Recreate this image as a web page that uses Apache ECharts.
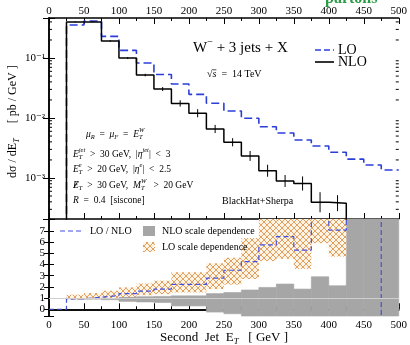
<!DOCTYPE html>
<html>
<head>
<meta charset="utf-8">
<script src="https://cdn.jsdelivr.net/npm/echarts@6/dist/echarts.min.js"></script>
<style>
  html, body { margin: 0; padding: 0; background: #fff; }
  #main { width: 410px; height: 345px; }
</style>
</head>
<body>
<div id="main"></div>
<script>
// histogram bins are 25 GeV wide
const BIN = 25;
// LO and NLO cross sections, pb/GeV, bins from 25 GeV
const loXsec = [0.355, 0.415, 0.230, 0.134, 0.0826, 0.0531, 0.0369, 0.0248, 0.0176, 0.0131,
  0.00989, 0.00716, 0.00562, 0.0043, 0.00341, 0.00268, 0.00206, 0.00165, 0.00136];
const nloXsec = [0.40, 0.40, 0.192, 0.100, 0.052, 0.0304, 0.0175, 0.0120, 0.00656, 0.00394,
  0.00233, 0.00132, 0.00089, 0.00081, 0.000394, 0.00038];
// relative statistical error of NLO
const nloErr = [0.02, 0.02, 0.03, 0.04, 0.05, 0.08, 0.13, 0.17, 0.17, 0.17,
  0.21, 0.26, 0.26, 0.31, 0.47, 0.36];
// ratio panel, bins from 0 GeV (20 = off scale above, -20 = off scale below)
const ratioLoNlo = [0, 0.92, 1.08, 1.22, 1.4, 1.62, 1.8, 2.22, 2.22, 2.77, 3.48, 4.25,
  5.74, 6.48, 5.28, 8.6, 7.05, 20, 20, -20];
// NLO scale band, bins from 25 GeV
const nloBandLow = [0.92, 0.9, 0.85, 0.7, 0.65, 0.6, 0.3, 0.3, -0.25, -0.4, -1, -1, -1, -1, -1, -1, -1, -1, -1];
const nloBandHigh = [1.08, 1.1, 1.1, 1.1, 1.12, 1.15, 1.2, 1.2, 1.4, 1.5, 1.72, 1.95, 2.25, 1.8, 2.9, 2.1, 9, 9, 9];
// LO scale band, bins from 25 GeV
const loBandLow = [0.85, 0.9, 1.0, 1.1, 1.25, 1.35, 1.5, 1.5, 1.8, 2.2, 2.7, 4.3, 4.5, 3.6, 5.9, 4.7];
const loBandHigh = [1.3, 1.45, 1.65, 1.95, 2.3, 2.55, 3.3, 3.3, 4.1, 4.6, 6.35, 9, 9, 9, 9, 9];

const SERIF = '"Liberation Serif", "DejaVu Serif", serif';
const FLOOR = 1e-6;

function steps(from, vals, rise, drop) {
  const pts = [];
  if (rise) pts.push([from, FLOOR]);
  vals.forEach((v, i) => {
    pts.push([from + i * BIN, v]);
    pts.push([from + (i + 1) * BIN, v]);
  });
  if (drop) pts.push([from + vals.length * BIN, FLOOR]);
  return pts;
}

function bands(from, low, high) {
  return low.map((l, i) => [from + i * BIN, from + (i + 1) * BIN, l, high[i]]);
}

function hatch() {
  const c = document.createElement('canvas');
  c.width = 6; c.height = 6;
  const g = c.getContext('2d');
  g.fillStyle = '#fff3e4';
  g.fillRect(0, 0, 6, 6);
  g.strokeStyle = '#e0a062';
  g.lineWidth = 1;
  g.beginPath();
  g.moveTo(0, 0); g.lineTo(6, 6);
  g.moveTo(6, 0); g.lineTo(0, 6);
  g.stroke();
  return c;
}
const hatchFill = { image: hatch(), repeat: 'repeat' };

function bandItem(fill, stroke) {
  return function (params, api) {
    const a = api.coord([api.value(0), api.value(3)]);
    const b = api.coord([api.value(1), api.value(2)]);
    const cs = params.coordSys;
    const shape = echarts.graphic.clipRectByRect(
      { x: a[0], y: a[1], width: b[0] - a[0], height: b[1] - a[1] },
      { x: cs.x, y: cs.y, width: cs.width, height: cs.height });
    if (!shape) return null;
    return { type: 'rect', shape: shape, style: { fill: fill, stroke: stroke, lineWidth: stroke ? 0.6 : 0 } };
  };
}

// text with sub/superscripts
const mctx = document.createElement('canvas').getContext('2d');
function fontOf(size, italic, bold) {
  return (italic ? 'italic ' : '') + (bold ? 'bold ' : '') + size + 'px ' + SERIF;
}
function tw(t, font) { mctx.font = font; return mctx.measureText(t).width; }
function mathText(x, y, size, parts, color) {
  color = color || '#000';
  const out = [];
  let cx = x;
  const put = (t, s, it, dy) => {
    const f = fontOf(s, it);
    out.push({ type: 'text', x: cx, y: y + dy, style: {
      text: t, font: f, fill: color, textAlign: 'left', textVerticalAlign: 'middle' } });
    return tw(t, f);
  };
  parts.forEach(p => {
    if (typeof p === 'string') { cx += put(p, size, false, 0); return; }
    const x0 = cx;
    const w = put(p.t, size, !!p.it, 0);
    if (p.slash) out.push({ type: 'line', shape: { x1: x0 + w * 0.15, y1: y + size * 0.32, x2: x0 + w * 0.85, y2: y - size * 0.42 },
      style: { stroke: color, lineWidth: 0.8 } });
    if (p.bar) out.push({ type: 'line', shape: { x1: x0, y1: y - size * 0.42, x2: x0 + w, y2: y - size * 0.42 },
      style: { stroke: color, lineWidth: 0.7 } });
    cx += w;
    let adv = 0;
    const s2 = size * 0.68;
    if (p.sub) adv = Math.max(adv, put(p.sub, s2, true, size * 0.32));
    if (p.sup) adv = Math.max(adv, put(p.sup, s2, !p.supUp, -size * 0.4));
    cx += adv;
  });
  return out;
}

const supMap = { '-': '\u207b', '0': '\u2070', '1': '\u00b9', '2': '\u00b2', '3': '\u00b3', '4': '\u2074' };
function logLabel(v) {
  const e = Math.log10(v);
  if (Math.abs(e - Math.round(e)) > 1e-6) return '';
  return '10' + String(Math.round(e)).split('').map(c => supMap[c]).join('');
}

// minor ticks of the log axis (2..9 in each decade)
const logMinor = [];
for (let n = -4; n <= -1; n++) {
  for (let k = 2; k <= 9; k++) {
    const v = k * Math.pow(10, n);
    if (v > 2.07e-4 && v < 0.465) logMinor.push([0, v]);
  }
}

const chart = echarts.init(document.getElementById('main'));

const frame = { lineStyle: { color: '#000', width: 1.5 } };
const label = { color: '#000', fontFamily: SERIF, fontSize: 11 };

function xAx(grid, pos, showLabel, showTick) {
  return {
    type: 'value', gridIndex: grid, position: pos, min: 0, max: 500, interval: 50,
    axisLine: frame,
    axisTick: { show: showTick, inside: true, length: 6, lineStyle: { color: '#000', width: 1 } },
    minorTick: { show: showTick, splitNumber: 2, length: 3, lineStyle: { color: '#000', width: 1 } },
    axisLabel: { show: showLabel, margin: pos === 'top' ? 1 : 4, ...label },
    splitLine: { show: false }
  };
}
function logAx(pos, showLabel) {
  return {
    type: 'log', gridIndex: 0, position: pos, logBase: 10, min: 2.07e-4, max: 0.465,
    axisLine: frame,
    axisTick: { inside: true, length: 6, lineStyle: { color: '#000', width: 1 } },
    axisLabel: { show: showLabel, margin: 4, formatter: logLabel, ...label },
    splitLine: { show: false }
  };
}
function ratioAx(pos, showLabel) {
  return {
    type: 'value', gridIndex: 1, position: pos, min: -0.6, max: 8.05, minInterval: 1, maxInterval: 1,
    axisLine: frame,
    axisTick: { inside: true, length: 5, lineStyle: { color: '#000', width: 1 } },
    axisLabel: { show: showLabel, margin: 4, ...label,
      formatter: v => (Math.abs(v - Math.round(v)) < 1e-6 && v >= 0 && v <= 7) ? String(Math.round(v)) : '' },
    splitLine: { show: false }
  };
}

const graphics = [].concat(
  [{ type: 'text', x: 325, y: -1, style: { text: 'partons', font: fontOf(16, false, true), fill: '#2a9a44',
    textAlign: 'left', textVerticalAlign: 'middle' } }],
  mathText(193, 48.5, 15, [{ t: 'W', sup: '\u2212', supUp: true }, ' + 3 jets + X']),
  mathText(207, 74, 10, ['\u221a', { t: 's', it: true, bar: true }, '  =  14 TeV']),
  [
    { type: 'line', shape: { x1: 315, y1: 50, x2: 334, y2: 50 }, style: { stroke: '#2b3fd6', lineWidth: 1.6, lineDash: [6, 3] } },
    { type: 'line', shape: { x1: 315, y1: 62, x2: 334, y2: 62 }, style: { stroke: '#000', lineWidth: 1.6 } }
  ],
  mathText(338, 50.5, 14, ['LO']),
  mathText(338, 62.5, 14, ['NLO']),
  mathText(86, 134, 9.5, [{ t: '\u03bc', it: true, sub: 'R' }, '  =  ', { t: '\u03bc', it: true, sub: 'F' }, '  =  ', { t: 'E', it: true, sub: 'T', sup: 'W' }]),
  mathText(73, 154, 9.5, [{ t: 'E', it: true, sub: 'T', sup: 'jet' }, '  >  30 GeV,  |', { t: '\u03b7', it: true, sup: 'jet' }, '|  <  3']),
  mathText(73, 169.5, 9.5, [{ t: 'E', it: true, sub: 'T', sup: 'e' }, '  >  20 GeV,  |', { t: '\u03b7', it: true, sup: 'e' }, '|  <  2.5']),
  mathText(73, 185, 9.5, [{ t: 'E', it: true, sub: 'T', slash: true }, '  >  30 GeV,  ', { t: 'M', it: true, sub: 'T', sup: 'W' }, '   >  20 GeV']),
  mathText(73, 200, 9.5, [{ t: 'R', it: true }, '  =  0.4  [siscone]']),
  mathText(222, 201, 10, ['BlackHat+Sherpa']),
  [
    { type: 'line', shape: { x1: 60, y1: 231, x2: 83, y2: 231 }, style: { stroke: '#4450dc', lineWidth: 1.2, lineDash: [5, 3] } },
    { type: 'rect', shape: { x: 143, y: 226, width: 12, height: 10 }, style: { fill: '#a6a6a6' } },
    { type: 'rect', shape: { x: 143, y: 242, width: 12, height: 10 }, style: { fill: hatchFill } }
  ],
  mathText(90, 231, 10, ['LO / NLO']),
  mathText(162, 231, 10, ['NLO scale dependence']),
  mathText(162, 247, 10, ['LO scale dependence']),
  mathText(160, 338, 13, ['Second  Jet  ', { t: 'E', sub: 'T' }, '   [ GeV ]']),
  [{ type: 'group', x: 13, y: 178, rotation: Math.PI / 2,
    children: mathText(0, 0, 12, ['d\u03c3 / dE', { t: '', sub: 'T' }, '     [ pb / GeV ]']) }]
);

chart.setOption({
  animation: false,
  backgroundColor: '#fff',
  grid: [
    { left: 49, top: 18, width: 352, height: 201 },
    { left: 49, top: 219, width: 352, height: 97 }
  ],
  xAxis: [xAx(0, 'top', true, true), xAx(0, 'bottom', false, true), xAx(1, 'bottom', true, true), xAx(1, 'top', false, false)],
  yAxis: [logAx('left', true), logAx('right', false), ratioAx('left', true), ratioAx('right', false)],
  graphic: graphics.map(g => Object.assign({ z: 100, silent: true }, g)),
  series: [
    {
      type: 'custom', xAxisIndex: 0, yAxisIndex: 0, data: logMinor, z: 5, silent: true,
      encode: { x: 0, y: 1 },
      renderItem: (params, api) => {
        const y = api.coord([0, api.value(1)])[1];
        const cs = params.coordSys;
        return { type: 'group', children: [
          { type: 'line', shape: { x1: cs.x, y1: y, x2: cs.x + 3, y2: y }, style: { stroke: '#000', lineWidth: 1 } },
          { type: 'line', shape: { x1: cs.x + cs.width - 3, y1: y, x2: cs.x + cs.width, y2: y }, style: { stroke: '#000', lineWidth: 1 } }
        ] };
      }
    },
    {
      name: 'LO', type: 'line', xAxisIndex: 0, yAxisIndex: 0, data: steps(25, loXsec, true, false),
      symbol: 'none', z: 3, lineStyle: { color: '#2b3fd6', width: 1.6, type: [8, 4] }
    },
    {
      name: 'NLO', type: 'line', xAxisIndex: 0, yAxisIndex: 0, data: steps(25, nloXsec, true, true),
      symbol: 'none', z: 4, lineStyle: { color: '#000', width: 1.5 }
    },
    {
      type: 'custom', xAxisIndex: 0, yAxisIndex: 0, z: 4, silent: true,
      data: nloXsec.map((v, i) => [25 + (i + 0.5) * BIN, v, v / (1 + nloErr[i]), v * (1 + nloErr[i])]),
      encode: { x: 0, y: 1 },
      renderItem: (params, api) => {
        const a = api.coord([api.value(0), api.value(3)]);
        const b = api.coord([api.value(0), api.value(2)]);
        return { type: 'line', shape: { x1: a[0], y1: a[1], x2: b[0], y2: b[1] }, style: { stroke: '#000', lineWidth: 1 } };
      }
    },
    {
      type: 'custom', xAxisIndex: 2, yAxisIndex: 2, z: 1, silent: true,
      data: bands(25, nloBandLow, nloBandHigh), encode: { x: [0, 1], y: [2, 3] },
      renderItem: bandItem('#a6a6a6', '#a6a6a6'),
      markLine: { silent: true, symbol: 'none', label: { show: false },
        lineStyle: { color: '#cfcfcf', width: 1, type: 'solid' }, data: [{ yAxis: 1 }] }
    },
    {
      type: 'custom', xAxisIndex: 2, yAxisIndex: 2, z: 2, silent: true,
      data: bands(25, loBandLow, loBandHigh), encode: { x: [0, 1], y: [2, 3] },
      renderItem: bandItem(hatchFill, null)
    },
    {
      name: 'LO / NLO', type: 'line', xAxisIndex: 2, yAxisIndex: 2, data: steps(0, ratioLoNlo, false, false),
      symbol: 'none', z: 3, lineStyle: { color: '#4450dc', width: 1.2, type: [5, 3] }
    }
  ]
});
</script>
</body>
</html>
